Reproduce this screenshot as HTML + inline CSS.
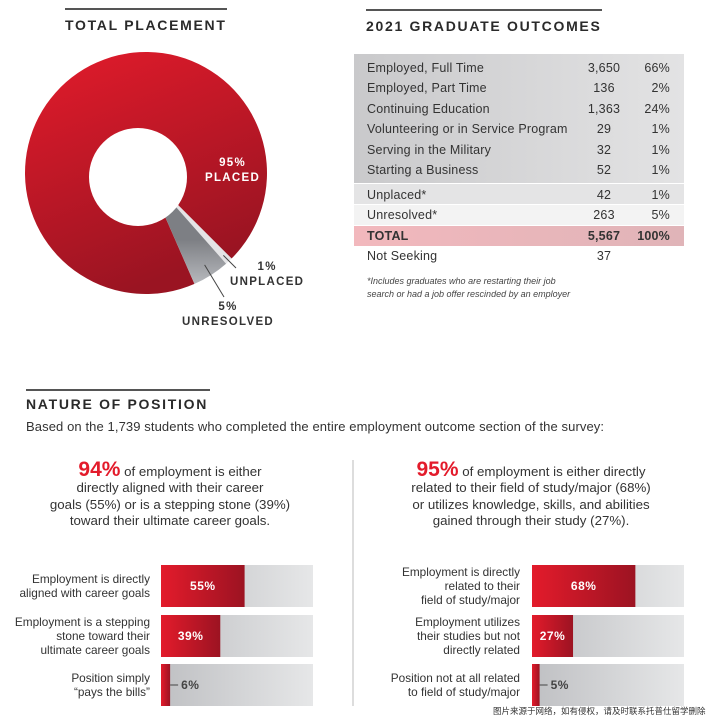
<!DOCTYPE html>
<html><head><meta charset="utf-8"><style>
body{margin:0;width:714px;height:722px;background:#fff;position:relative;overflow:hidden;font-family:"Liberation Sans","Noto Sans CJK SC",sans-serif;color:#333}
.a{position:absolute}
.title{font-weight:bold;font-size:14px;letter-spacing:1.7px;color:#2a2a2a}
.rule{position:absolute;height:2px;background:#555}
.row{position:absolute;left:354px;width:330px;height:20px;font-size:12.5px;line-height:20px;letter-spacing:.2px}
.row span{position:absolute}
.l{left:13px}.n{left:210px;width:80px;text-align:center}.p{right:14px}
.blurb{font-size:13.3px;line-height:16.3px;text-align:center;color:#333}
.big{color:#e31b2b;font-weight:bold;font-size:21px}
.lab{font-size:11.8px;line-height:14px;text-align:right;width:160px;color:#333}
</style></head><body>
<div class="rule" style="left:65px;top:8px;width:162px"></div>
<div class="a title" style="left:65px;top:17px">TOTAL PLACEMENT</div>
<div class="rule" style="left:366px;top:9px;width:236px"></div>
<div class="a title" style="left:366px;top:18px">2021 GRADUATE OUTCOMES</div>

<svg class="a" style="left:0;top:0" width="714" height="722">
<defs>
<linearGradient id="rg" x1="0" y1="0" x2="0.4" y2="1"><stop offset="0" stop-color="#e31b2b"/><stop offset="1" stop-color="#9a1422"/></linearGradient>
<linearGradient id="gg" x1="0" y1="0" x2="0" y2="1"><stop offset="0.6" stop-color="#7d7f84"/><stop offset="1" stop-color="#b7b9bd"/></linearGradient>
<linearGradient id="bg" x1="0" y1="0" x2="1" y2="0"><stop offset="0" stop-color="#bfc0c3"/><stop offset="1" stop-color="#e6e7e8"/></linearGradient>
<linearGradient id="br" x1="0" y1="0" x2="1" y2="0"><stop offset="0" stop-color="#e31b2b"/><stop offset="1" stop-color="#9c1322"/></linearGradient>
</defs>
<g id="donut"></g>
<g id="bars"></g>
<line x1="353" y1="460" x2="353" y2="706" stroke="#bbb" stroke-width="1"/>
</svg>

<div class="a" style="left:205px;top:156px;color:#fff;font-weight:bold;font-size:11.5px;letter-spacing:1.3px;text-align:center;line-height:15px">95%<br>PLACED</div>
<div class="a" style="left:230px;top:260px;font-weight:bold;font-size:11.5px;letter-spacing:1.3px;text-align:center;line-height:15px;color:#333">1%<br>UNPLACED</div>
<div class="a" style="left:182px;top:300px;font-weight:bold;font-size:11.5px;letter-spacing:1.3px;text-align:center;line-height:15px;color:#333">5%<br>UNRESOLVED</div>

<div class="a" style="left:354px;top:54px;width:330px;height:129px;background:linear-gradient(90deg,#c9c9cb,#e3e3e4)"></div>
<div class="a" style="left:354px;top:184px;width:330px;height:20px;background:#e4e4e5"></div>
<div class="a" style="left:354px;top:205px;width:330px;height:20px;background:#f3f3f3"></div>
<div class="a" style="left:354px;top:226px;width:330px;height:20px;background:linear-gradient(90deg,#f2b8bd,#e0b4b8)"></div>
<div id="rows"></div>
<div class="a" style="left:367px;top:275px;font-style:italic;font-size:9px;line-height:13px;color:#444">*Includes graduates who are restarting their job<br>search or had a job offer rescinded by an employer</div>

<div class="rule" style="left:26px;top:389px;width:184px"></div>
<div class="a title" style="left:26px;top:396px">NATURE OF POSITION</div>
<div class="a" style="left:26px;top:419px;font-size:13px;letter-spacing:.1px;white-space:nowrap">Based on the 1,739 students who completed the entire employment outcome section of the survey:</div>
<div class="a blurb" style="left:10px;top:462px;width:320px"><span class="big">94%</span> of employment is either<br>directly aligned with their career<br>goals (55%) or is a stepping stone (39%)<br>toward their ultimate career goals.</div>
<div class="a blurb" style="left:371px;top:462px;width:320px"><span class="big">95%</span> of employment is either directly<br>related to their field of study/major (68%)<br>or utilizes knowledge, skills, and abilities<br>gained through their study (27%).</div>
<div id="labels"></div>
<div class="a" style="left:493px;top:705px;font-size:8.5px;color:#333;white-space:nowrap">图片来源于网络，如有侵权，请及时联系托普仕留学删除</div>

<script>
// Donut data
const sliceNames=["placed","unplaced","unresolved"];
const sliceValues=[95,1,5];
// Table data
const rowLabels=["Employed, Full Time","Employed, Part Time","Continuing Education","Volunteering or in Service Program","Serving in the Military","Starting a Business","Unplaced*","Unresolved*","TOTAL","Not Seeking"];
const rowCounts=["3,650","136","1,363","29","32","52","42","263","5,567","37"];
const rowPcts=["66%","2%","24%","1%","1%","1%","1%","5%","100%",""];
// Bar data
const leftCats=["Employment is directly|aligned with career goals","Employment is a stepping|stone toward their|ultimate career goals","Position simply|“pays the bills”"];
const leftVals=[55,39,6];
const rightCats=["Employment is directly|related to their|field of study/major","Employment utilizes|their studies but not|directly related","Position not at all related|to field of study/major"];
const rightVals=[68,27,5];

const NS="http://www.w3.org/2000/svg";
const dg=document.getElementById('donut');
const cx=146,cy=173,R=121,hx=138,hy=177,hr=49;
const total=sliceValues.reduce((a,b)=>a+b,0);
const fills=["url(#rg)","#e4e4e6","url(#gg)"];
const spans=sliceValues.map(v=>v/total*360);
let a0=45-spans[0];
let angles=[];let a=a0;
for(let i=0;i<3;i++){angles.push([a,a+spans[i]]);a+=spans[i];}
function pt(r,deg,x,y){const t=deg*Math.PI/180;return [x+r*Math.cos(t),y+r*Math.sin(t)];}
angles.forEach((ang,i)=>{
  const p=document.createElementNS(NS,'path');
  const [x1,y1]=pt(R,ang[0],cx,cy),[x2,y2]=pt(R,ang[1],cx,cy);
  const large=(ang[1]-ang[0])>180?1:0;
  p.setAttribute('d',`M${cx},${cy} L${x1},${y1} A${R},${R} 0 ${large} 1 ${x2},${y2} Z`);
  p.setAttribute('fill',fills[i]);
  
  
  dg.appendChild(p);
});
const hole=document.createElementNS(NS,'circle');
hole.setAttribute('cx',hx);hole.setAttribute('cy',hy);hole.setAttribute('r',hr);hole.setAttribute('fill','#fff');


dg.appendChild(hole);
function leader(deg,rr,x2,y2,name){const [x1,y1]=pt(rr,deg,cx,cy);const l=document.createElementNS(NS,'line');
l.setAttribute('x1',x1);l.setAttribute('y1',y1);l.setAttribute('x2',x2);l.setAttribute('y2',y2);l.setAttribute('stroke','#444');


dg.appendChild(l);}
leader((angles[1][0]+angles[1][1])/2,R-8,236,268,'unplaced-leader');
leader((angles[2][0]+angles[2][1])/2,R-12,224,297,'unresolved-leader');

const tops=[58,78,99,119,140,160,185,205,226,246];
const rowsEl=document.getElementById('rows');
rowLabels.forEach((lab,i)=>{
  const d=document.createElement('div');d.className='row';d.style.top=tops[i]+'px';
  if(lab==='TOTAL')d.style.fontWeight='bold';
  
  
  d.innerHTML=`<span class="l">${lab}</span><span class="n">${rowCounts[i]}</span><span class="p">${rowPcts[i]}</span>`;
  rowsEl.appendChild(d);
});

const bg=document.getElementById('bars');
const barTops=[565,615,664],barH=42,barW=152;
const labelsEl=document.getElementById('labels');
function drawBars(cats,vals,x0,labRight,side){
  vals.forEach((v,i)=>{
    const y=barTops[i];
    const back=document.createElementNS(NS,'rect');
    back.setAttribute('x',x0);back.setAttribute('y',y);back.setAttribute('width',barW);back.setAttribute('height',barH);back.setAttribute('fill','url(#bg)');
    
    
    bg.appendChild(back);
    const w=barW*v/100;
    const r=document.createElementNS(NS,'rect');
    r.setAttribute('x',x0);r.setAttribute('y',y);r.setAttribute('width',w);r.setAttribute('height',barH);r.setAttribute('fill','url(#br)');
    
    
    bg.appendChild(r);
    const t=document.createElementNS(NS,'text');
    t.setAttribute('font-weight','bold');t.setAttribute('font-size','12');t.setAttribute('letter-spacing','0.5');
    t.setAttribute('font-family','Liberation Sans, sans-serif');
    t.setAttribute('y',y+barH/2+4);
    
    
    if(v>15){t.setAttribute('x',x0+w/2);t.setAttribute('text-anchor','middle');t.setAttribute('fill','#fff');}
    else{t.setAttribute('x',x0+w+11);t.setAttribute('fill','#444');
      const l=document.createElementNS(NS,'line');l.setAttribute('x1',x0+w);l.setAttribute('x2',x0+w+8);l.setAttribute('y1',y+barH/2);l.setAttribute('y2',y+barH/2);l.setAttribute('stroke','#444');
      
      
      bg.appendChild(l);}
    t.textContent=v+'%';bg.appendChild(t);
    const lines=cats[i].split('|');
    const d=document.createElement('div');d.className='a lab';
    d.style.left=(labRight-160)+'px';
    d.style.top=(y+barH/2-lines.length*7)+'px';
    
    
    d.innerHTML=lines.join('<br>');labelsEl.appendChild(d);
  });
}
drawBars(leftCats,leftVals,161,150,'left');
drawBars(rightCats,rightVals,532,520,'right');
</script>
</body></html>
